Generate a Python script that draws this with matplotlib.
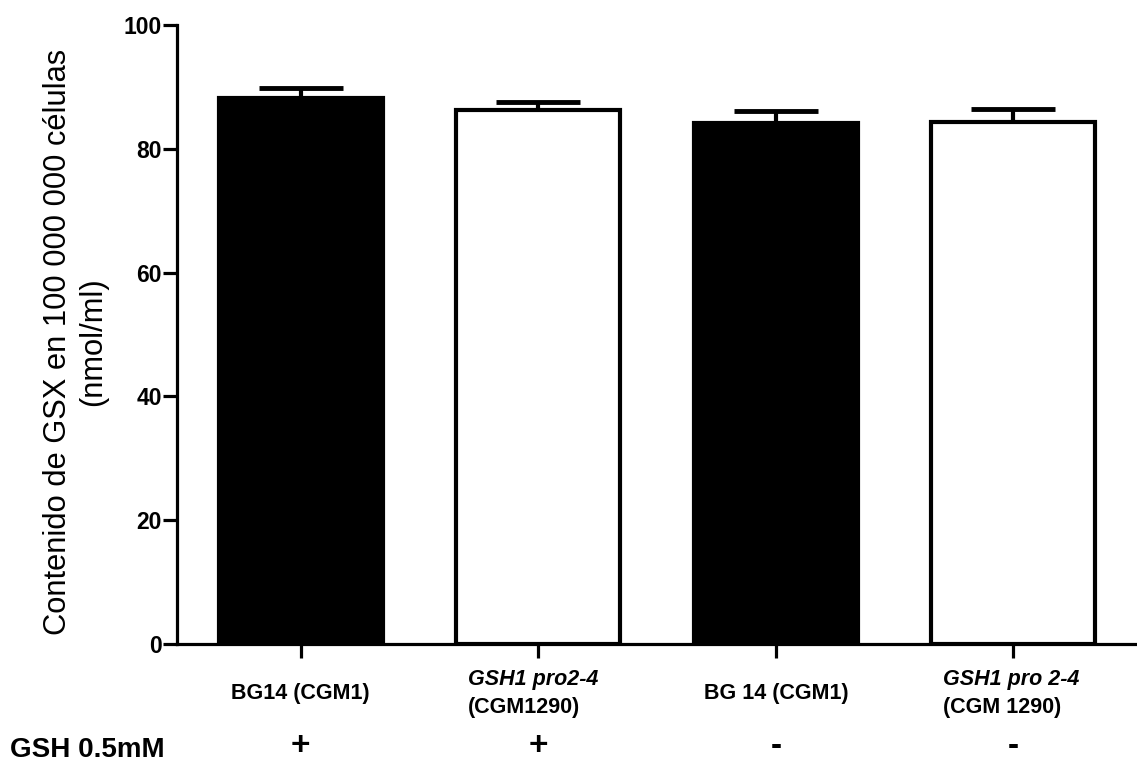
import matplotlib
matplotlib.use("Agg")
from matplotlib import pyplot as plt
import matplotlib.transforms as mtransforms

plt.rcParams['font.family'] = ['Liberation Sans', 'DejaVu Sans']

# data
strains = ['BG14 (CGM1)', 'GSH1 pro2-4', 'BG 14 (CGM1)', 'GSH1 pro 2-4']
codes = ['', '(CGM1290)', '', '(CGM 1290)']
means = [88.2, 86.3, 84.1, 84.3]
errs = [1.6, 1.3, 2.0, 2.1]
fills = ['black', 'white', 'black', 'white']
gsh = ['+', '+', '-', '-']

fig = plt.figure(figsize=(11.37, 7.66), dpi=100)
ax = fig.add_axes([0.1557, 0.1593, 0.8443, 0.8081])

x = list(range(len(means)))
ax.bar(x, means, width=0.69, color=fills, edgecolor='black', linewidth=3, zorder=3)
ax.errorbar(x, means, yerr=[[0] * len(errs), errs], fmt='none', ecolor='black',
            elinewidth=3, capsize=30, capthick=3.5, zorder=2)

ax.set_xlim(-0.52, 3.52)
ax.set_ylim(0, 100)
ax.set_yticks([0, 20, 40, 60, 80, 100])
ax.set_xticks(x)
ax.set_xticklabels([''] * len(x))

for s in ['top', 'right']:
    ax.spines[s].set_visible(False)
for s in ['left', 'bottom']:
    ax.spines[s].set_linewidth(2.3)

ax.tick_params(axis='both', direction='out', length=10, width=2.3, pad=1)
for lab in ax.get_yticklabels():
    lab.set_fontsize(16.5)
    lab.set_fontweight('bold')

ax.set_ylabel('Contenido de GSX en 100 000 000 células\n(nmol/ml)', fontsize=22.2,
              linespacing=1.2)
ax.yaxis.set_label_coords(-0.072, 0.488)

trans = mtransforms.blended_transform_factory(ax.transData, fig.transFigure)
for i in x:
    if codes[i]:
        ax.text(i - 0.295, 1 - 679 / 766, strains[i], transform=trans, ha='left', va='center',
                fontsize=15.5, fontweight='bold', style='italic')
        ax.text(i - 0.295, 1 - 708 / 766, codes[i], transform=trans, ha='left', va='center',
                fontsize=15.5, fontweight='bold')
    else:
        ax.text(i, 1 - 694 / 766, strains[i], transform=trans, ha='center', va='center',
                fontsize=15.5, fontweight='bold')
    ax.text(i, 1 - 747 / 766, gsh[i], transform=trans, ha='center', va='center',
            fontsize=24, fontweight='bold')

fig.text(0.009, 1 - 750 / 766, 'GSH 0.5mM', ha='left', va='center', fontsize=20, fontweight='bold')

fig.savefig('out.png', dpi=100)
